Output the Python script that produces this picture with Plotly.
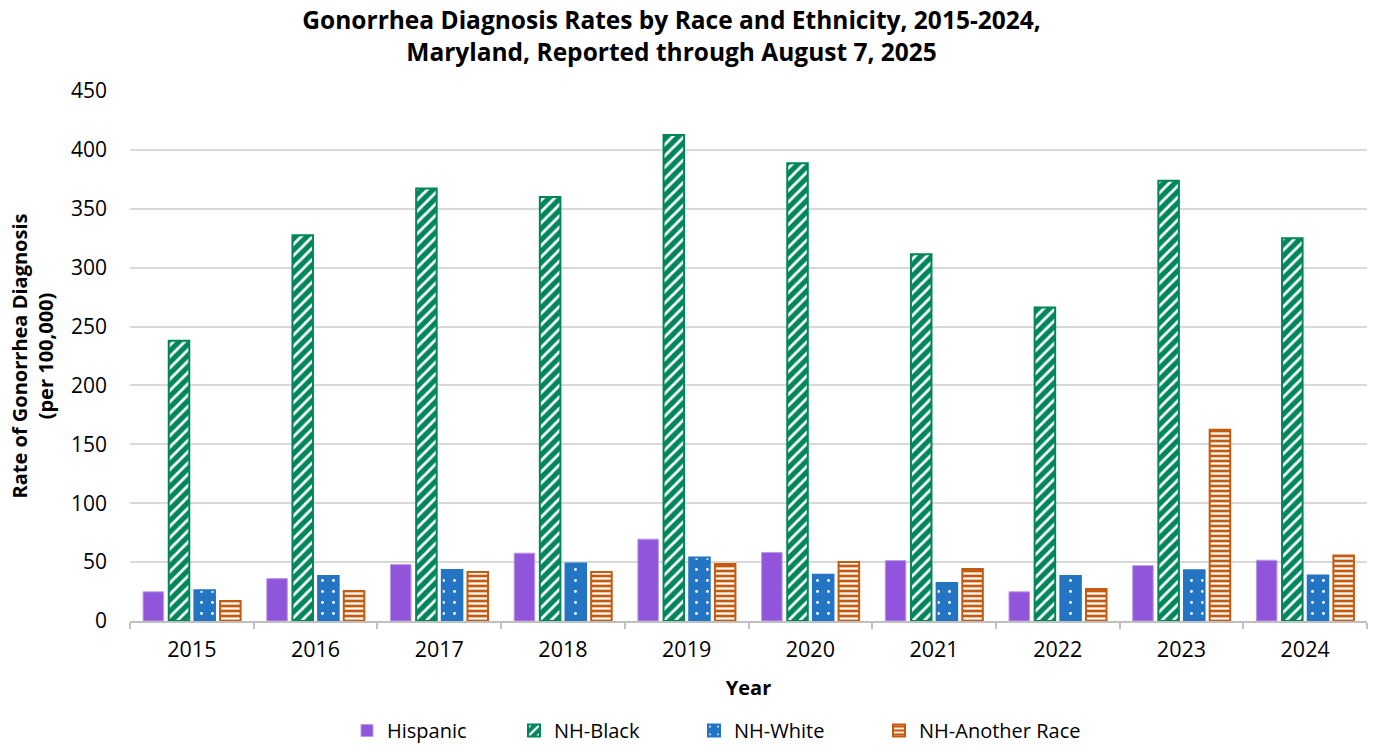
import plotly.graph_objects as go

# Gonorrhea diagnosis rates per 100,000 by race/ethnicity, Maryland
years = ["2015", "2016", "2017", "2018", "2019", "2020", "2021", "2022", "2023", "2024"]
hispanic = [24.8, 36.0, 47.9, 57.6, 69.5, 58.2, 51.3, 24.8, 47.0, 51.6]
nh_black = [238.0, 327.5, 367.3, 359.9, 412.6, 388.7, 311.4, 266.1, 373.7, 325.0]
nh_white = [26.1, 38.3, 43.4, 48.8, 53.9, 39.2, 32.2, 38.2, 43.0, 38.6]
nh_another = [17.0, 25.5, 41.7, 41.7, 48.4, 50.2, 44.2, 27.1, 162.3, 55.7]

y_ticks = [0, 50, 100, 150, 200, 250, 300, 350, 400, 450]

FONT = "Open Sans"
PURPLE = "#9155DB"
GREEN = "#00865A"
BLUE = "#2474C4"
ORANGE = "#C55A11"

W, H = 1379, 750

fig = go.Figure()

fig.add_trace(go.Bar(
    name="Hispanic", x=years, y=hispanic, legend="legend",
    marker=dict(color=PURPLE, line=dict(color="#B99BE8", width=1)),
))
fig.add_trace(go.Bar(
    name="NH-Black", x=years, y=nh_black, legend="legend2",
    marker=dict(
        color=GREEN, line=dict(color=GREEN, width=2),
        pattern=dict(shape="/", fgcolor="white", bgcolor=GREEN,
                     size=8, solidity=0.35, fillmode="replace"),
    ),
))
fig.add_trace(go.Bar(
    name="NH-White", x=years, y=nh_white, legend="legend3",
    marker=dict(
        color=BLUE, line=dict(color=BLUE, width=2),
        pattern=dict(shape=".", fgcolor="white", bgcolor=BLUE,
                     size=11, solidity=0.05, fillmode="replace"),
    ),
))
fig.add_trace(go.Bar(
    name="NH-Another Race", x=years, y=nh_another, legend="legend4",
    marker=dict(
        color=ORANGE, line=dict(color=ORANGE, width=2),
        pattern=dict(shape="-", fgcolor="white", bgcolor=ORANGE,
                     size=5, solidity=0.45, fillmode="replace"),
    ),
))


def legend_box(left_px):
    # one single-entry legend per series, laid out in a row along the bottom
    return dict(
        orientation="h", xref="container", x=left_px / W, xanchor="left",
        yref="container", y=0.0, yanchor="bottom",
        font=dict(family=FONT, size=20, color="black"),
        itemwidth=30, bgcolor="rgba(0,0,0,0)",
    )


fig.update_layout(
    width=W, height=H,
    margin=dict(l=130, r=12, t=91, b=129, autoexpand=False),
    paper_bgcolor="white", plot_bgcolor="white",
    font=dict(family=FONT, size=20, color="black"),
    barmode="group", bargap=0.17, bargroupgap=0.2,
    title=dict(
        text="<b>Gonorrhea Diagnosis Rates by Race and Ethnicity, 2015-2024,<br>"
             "Maryland, Reported through August 7, 2025</b>",
        x=0.487, xanchor="center", y=0.961, yanchor="middle",
        font=dict(family=FONT, size=24.5, color="black"),
    ),
    legend=legend_box(347),
    legend2=legend_box(514),
    legend3=legend_box(694),
    legend4=legend_box(879),
    showlegend=True,
)

fig.update_xaxes(
    type="category",
    showline=True, linecolor="#BFBFBF", linewidth=1.5,
    ticks="outside", tickson="boundaries", ticklen=6, tickcolor="#BFBFBF",
    tickwidth=1.5,
    tickfont=dict(family=FONT, size=21.5, color="black"),
    ticklabelstandoff=8,
    title=dict(text="<b>Year</b>", font=dict(family=FONT, size=20, color="black"),
               standoff=19),
    showgrid=False,
)
fig.update_yaxes(
    range=[0, 450], tickvals=y_ticks,
    showgrid=True, gridcolor="#D9D9D9", gridwidth=1.5,
    zeroline=False, showline=False, ticks="",
    tickfont=dict(family=FONT, size=21, color="black"),
    ticklabelstandoff=22,
    title=dict(text="<b>Rate of Gonorrhea Diagnosis<br>(per 100,000)</b>",
               font=dict(family=FONT, size=20, color="black"),
               standoff=11),
)

fig.write_html("out.html")
